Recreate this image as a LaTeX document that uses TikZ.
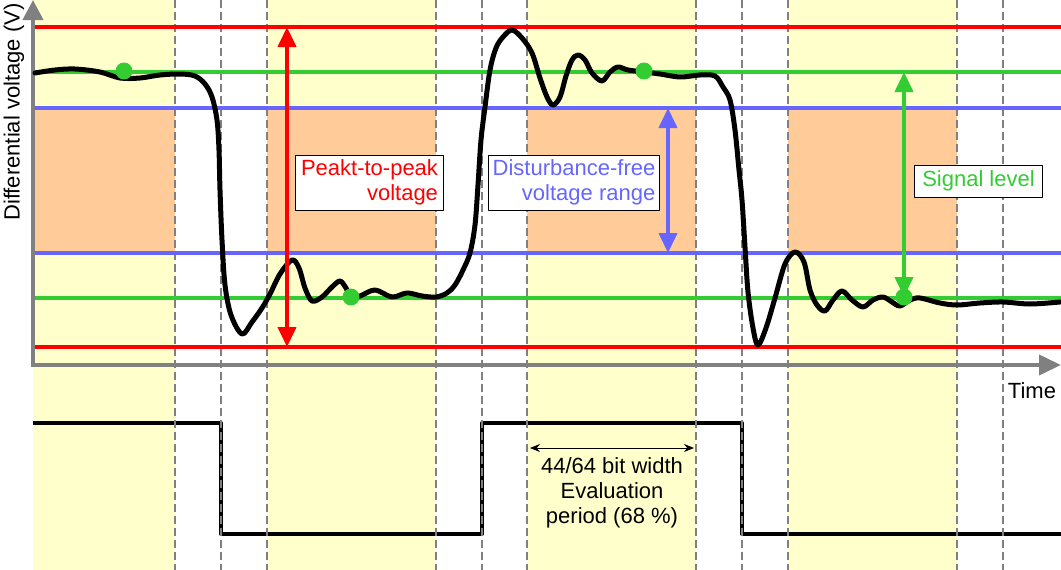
\documentclass[tikz,border=0pt]{standalone}
\usepackage{fontspec}
\setmainfont{Liberation Sans}
\usetikzlibrary{arrows.meta}
\definecolor{sigred}{HTML}{FF0000}
\definecolor{siggreen}{HTML}{33CC33}
\definecolor{sigblue}{HTML}{6666FF}
\definecolor{bandyellow}{HTML}{FFFFCC}
\definecolor{bandorange}{HTML}{FFCC99}
\definecolor{axisgray}{HTML}{808080}
\begin{document}
\begin{tikzpicture}[x=1pt,y=-1pt,>=stealth,line join=round,font=\fontsize{22}{25}\selectfont,
	thresh/.style={line width=4pt},
	bitline/.style={axisgray,line width=2pt,dash pattern=on 8pt off 4pt},
	measure/.style={line width=4pt,{Triangle[length=20pt,width=18pt]}-{Triangle[length=20pt,width=18pt]}},
	tag/.style={draw=black,line width=1pt,fill=white,align=right,inner xsep=6pt},
	gdot/.style={circle,fill=siggreen,inner sep=0pt,minimum size=17pt}]
				\useasboundingbox (0,0) rectangle (1061,570);
				\foreach \a/\b in {33/175,267/436,527/696,788/957}{
					\fill[bandyellow] (\a,0) rectangle (\b,570);
					\fill[bandorange] (\a,108) rectangle (\b,253);
				}
				\draw[line width=4pt] (33,423) -| (221,534) -| (482,423) -| (742,534) -- (1061,534);
				\foreach \x in {175,221,267,436,482,527,696,742,788,957,1003}
					\draw[bitline] (\x,0) -- (\x,570);
				
				\draw[thresh,sigred] (35,27) -- (1061,27) (35,347) -- (1061,347);
				\draw[thresh,siggreen] (35,72) -- (1061,72) (35,298) -- (1061,298);
				\draw[thresh,sigblue] (35,108) -- (1061,108) (35,253) -- (1061,253);
				
				\draw[axisgray,line width=4pt,-{Triangle[length=22pt,width=20pt]}] (31,365) -- (1061,365);
				\draw[axisgray,line width=4pt,-{Triangle[length=20pt,width=20pt]}] (33,367) -- (33,0);
				\node (time) at (1032,391) {Time};
				\node (ylab) [rotate=90] at (14,112) {Differential voltage (V)};
				
				\draw[line width=5pt,line cap=round] plot[smooth,tension=0.55] coordinates {
					(35,73) (55,70) (75,69) (100,72) (120,78) (140,78) (160,75) (180,74) (195,76) (205,84)
					(212,97) (217,120) (219,150) (220,190) (222,240) (225,285) (231,315) (242,334) (252,322)
					(262,308) (270,294) (280,274) (292,260) (299,268) (305,288) (312,301) (322,297) (332,287)
					(340,281) (346,288) (351,297) (360,296) (375,290) (392,297) (407,293) (422,296) (436,297)
					(447,293) (455,285) (463,270) (470,253) (475,225) (478,185) (481,140) (485,107) (490,70)
					(496,48) (503,37) (512,30) (522,38) (532,53) (540,78) (547,97) (553,105) (560,97) (566,76)
					(572,60) (578,55) (585,60) (592,73) (602,81) (610,72) (618,67) (628,70) (644,72) (660,74)
					(680,77) (700,75) (715,76) (723,87) (730,100) (735,130) (739,170) (742,200) (745,247)
					(748,292) (753,328) (758,345) (766,328) (775,298) (785,264) (795,252) (804,262) (810,290)
					(817,305) (825,311) (833,300) (842,291) (852,300) (863,307) (873,300) (883,297) (892,302)
					(900,306) (910,300) (920,298) (940,303) (957,305) (980,303) (1003,302) (1030,304) (1060,302)};
				
				\coordinate (ptptop) at (287,27);
				\coordinate (ptpbot) at (287,347);
				\coordinate (dftop) at (668,108);
				\coordinate (dfbot) at (668,253);
				\coordinate (sltop) at (904,72);
				\draw[measure,sigred] (ptptop) -- (ptpbot);
				\draw[measure,sigblue] (dftop) -- (dfbot);
				
				\node (d1) [gdot] at (124,71) {};
				\node (d2) [gdot] at (351,297) {};
				\node (d3) [gdot] at (644,71) {};
				\node (d4) [gdot] at (904,297) {};
				\draw[measure,siggreen] (sltop) -- (d4.center);
				
				\node (ptp) [tag,text=sigred,minimum height=55pt] at (369.5,182.5) {Peakt-to-peak\\voltage};
				\node (dfr) [tag,text=sigblue,minimum height=55pt,inner xsep=4pt] at (574,182.5) {Disturbance-free\\voltage range};
				\node (sig) [tag,text=siggreen,minimum height=32pt,inner xsep=8pt] at (978.5,181) {Signal level};
				
				\draw[{Stealth[length=10pt,width=8pt]}-{Stealth[length=10pt,width=8pt]},line width=1pt] (530,448) -- (694,448);
				\node (eval) [align=center] at (612,493) {44/64 bit width\\Evaluation\\period (68 \%)};
			\end{tikzpicture}
\end{document}
